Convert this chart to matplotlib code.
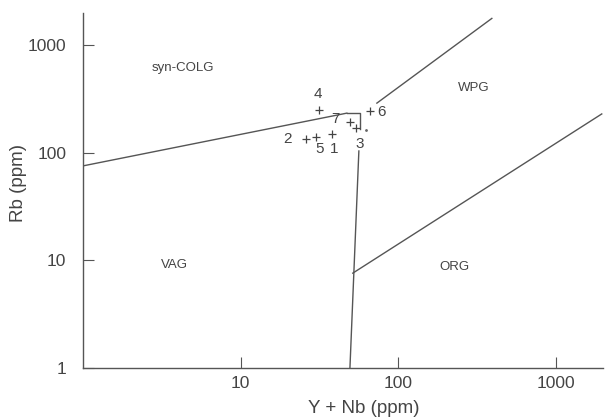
import numpy as np
import matplotlib
matplotlib.use("Agg")
import matplotlib.pyplot as plt

plt.rcParams['font.family'] = ['Liberation Sans', 'DejaVu Sans']

# boundary lines (Y+Nb, Rb)
vag_syncolg_x = [1, 47.3]
vag_syncolg_y = [75.6, 234]
corner_x = [47.3, 57.2, 57.2]
corner_y = [234, 234, 167]
vag_wpg_x = [56.4, 49.5]
vag_wpg_y = [104, 1]
org_wpg_x = [51.6, 1965]
org_wpg_y = [7.6, 230]
wpg_syncolg_x = [73.4, 394]
wpg_syncolg_y = [290, 1780]

# samples
sample_x = [38.0, 26.0, 54.0, 31.4, 30.1, 66.3, 49.4]
sample_y = [150, 135, 170, 250, 141, 245, 194]
label_text = ['1', '2', '3', '4', '5', '6', '7']
label_x = [39.1, 20.0, 57.3, 31.0, 31.9, 78.9, 40.3]
label_y = [109, 135, 121, 352, 109, 240, 206]

fields = ['syn-COLG', 'WPG', 'VAG', 'ORG']
field_x = [4.3, 303, 3.8, 229]
field_y = [612, 400, 9.0, 8.6]

fig = plt.figure(figsize=(6.06, 4.18), dpi=100)
ax = fig.add_axes([0.137, 0.12, 0.858, 0.849])

lc = '#555555'
for xs, ys in [(vag_syncolg_x, vag_syncolg_y), (corner_x, corner_y),
               (vag_wpg_x, vag_wpg_y), (org_wpg_x, org_wpg_y),
               (wpg_syncolg_x, wpg_syncolg_y)]:
    ax.plot(xs, ys, color=lc, lw=1)

ax.plot(sample_x, sample_y, '+', color='#444444', ms=6, mew=0.9)
ax.plot([62.5], [163], '.', color='#666666', ms=2)
for t, x, y in zip(label_text, label_x, label_y):
    ax.text(x, y, t, ha='center', va='center', fontsize=11, color='#444444')
for t, x, y in zip(fields, field_x, field_y):
    ax.text(x, y, t, ha='center', va='center', fontsize=9.5, color='#444444')

ax.set_xscale('log')
ax.set_yscale('log')
ax.set_xlim(1, 2000)
ax.set_ylim(1, 2000)
ax.set_xticks([10, 100, 1000])
ax.set_xticklabels(['10', '100', '1000'])
ax.set_yticks([1, 10, 100, 1000])
ax.set_yticklabels(['1', '10', '100', '1000'])
ax.minorticks_off()
ax.tick_params(direction='in', length=8, width=0.8, color=lc,
               labelsize=12.5, labelcolor='#444444')
ax.tick_params(axis='y', pad=12)
ax.tick_params(axis='x', pad=6)
for s in ['top', 'right']:
    ax.spines[s].set_visible(False)
for s in ['left', 'bottom']:
    ax.spines[s].set_color(lc)
    ax.spines[s].set_linewidth(1)

ax.set_xlabel('Y + Nb (ppm)', fontsize=13.5, color='#444444')
ax.set_ylabel('Rb (ppm)', fontsize=13.5, color='#444444')
ax.xaxis.set_label_coords(0.54, -0.09)
ax.yaxis.set_label_coords(-0.108, 0.52)

fig.savefig('out.png', dpi=100)
